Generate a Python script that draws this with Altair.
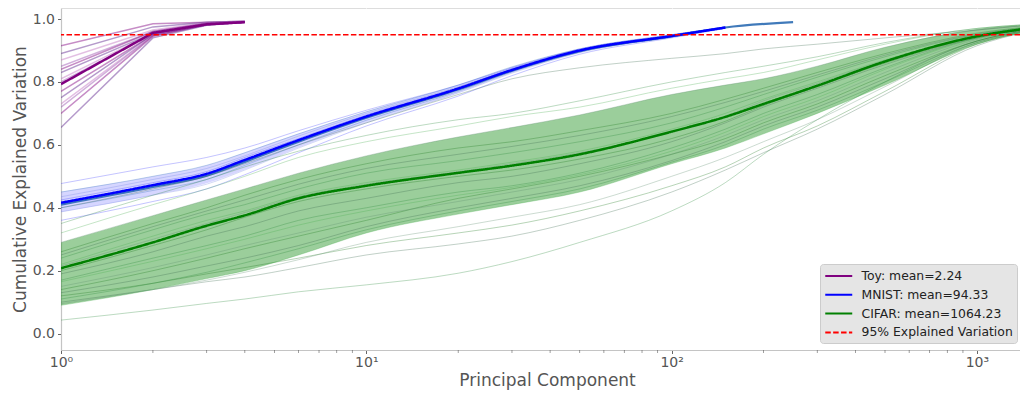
import altair as alt
import pandas as pd

# ---------------- data ----------------
TOY_X = [1, 2, 3, 4]
TOY_MEAN = [0.793, 0.956, 0.983, 0.990]
TOY_RUNS = [
    [0.915, 0.985, 0.990, 0.993],
    [0.890, 0.975, 0.990, 0.993],
    [0.870, 0.965, 0.988, 0.992],
    [0.850, 0.960, 0.987, 0.992],
    [0.840, 0.960, 0.986, 0.991],
    [0.830, 0.955, 0.985, 0.991],
    [0.810, 0.955, 0.985, 0.991],
    [0.800, 0.952, 0.985, 0.990],
    [0.770, 0.950, 0.983, 0.990],
    [0.750, 0.950, 0.983, 0.990],
    [0.730, 0.948, 0.982, 0.990],
    [0.720, 0.947, 0.982, 0.990],
    [0.700, 0.945, 0.982, 0.990],
    [0.655, 0.940, 0.980, 0.990],
]

MNIST_X = [1, 2, 3, 4, 6, 10, 20, 30, 50, 100, 150, 250]
MNIST_MEAN = [0.416, 0.472, 0.508, 0.552, 0.615, 0.690, 0.779, 0.838, 0.900, 0.946, 0.973]
MNIST_BAND_LO = [0.387, 0.440, 0.478, 0.522, 0.592, 0.672, 0.766, 0.829, 0.893, 0.943, 0.971]
MNIST_BAND_HI = [0.451, 0.500, 0.535, 0.576, 0.636, 0.706, 0.790, 0.848, 0.905, 0.950, 0.975]
MNIST_RUNS = [
    [0.477, 0.530, 0.560, 0.590, 0.645, 0.710, 0.790, 0.845, 0.905, 0.950, 0.975],
    [0.450, 0.500, 0.535, 0.575, 0.635, 0.705, 0.790, 0.848, 0.905, 0.950, 0.975],
    [0.435, 0.490, 0.525, 0.565, 0.628, 0.700, 0.785, 0.843, 0.903, 0.948, 0.974],
    [0.425, 0.480, 0.515, 0.560, 0.620, 0.695, 0.782, 0.840, 0.900, 0.947, 0.974],
    [0.400, 0.455, 0.490, 0.535, 0.600, 0.678, 0.770, 0.832, 0.895, 0.944, 0.972],
    [0.387, 0.440, 0.475, 0.520, 0.590, 0.670, 0.765, 0.828, 0.893, 0.943, 0.971],
    [0.360, 0.420, 0.460, 0.505, 0.575, 0.660, 0.755, 0.820, 0.888, 0.940, 0.970],
]
MNIST_LONG_RUN = [0.410, 0.466, 0.502, 0.546, 0.610, 0.686, 0.776, 0.836, 0.898, 0.945, 0.973, 0.990]

CIFAR_X = [1, 2, 3, 4, 6, 10, 20, 30, 50, 100, 150, 200, 300, 500, 1000, 1470]
CIFAR_MEAN = [0.208, 0.290, 0.343, 0.376, 0.430, 0.470, 0.511, 0.534, 0.570, 0.642,
              0.689, 0.730, 0.788, 0.865, 0.945, 0.970]
CIFAR_BAND_LO = [0.090, 0.140, 0.175, 0.200, 0.250, 0.320, 0.380, 0.410, 0.450, 0.540,
                 0.590, 0.635, 0.700, 0.790, 0.920, 0.960]
CIFAR_BAND_HI = [0.290, 0.375, 0.425, 0.460, 0.510, 0.565, 0.625, 0.655, 0.695, 0.760,
                 0.790, 0.810, 0.850, 0.910, 0.968, 0.982]
CIFAR_RUNS = [
    [0.043, 0.075, 0.096, 0.110, 0.133, 0.155, 0.192, 0.229, 0.290, 0.390, 0.480, 0.570, 0.680, 0.800, 0.930, 0.965],
    [0.100, 0.140, 0.165, 0.180, 0.210, 0.250, 0.285, 0.310, 0.360, 0.450, 0.520, 0.575, 0.650, 0.760, 0.915, 0.960],
    [0.120, 0.160, 0.190, 0.210, 0.240, 0.280, 0.320, 0.345, 0.390, 0.470, 0.530, 0.590, 0.660, 0.770, 0.920, 0.962],
    [0.095, 0.140, 0.170, 0.195, 0.235, 0.290, 0.340, 0.370, 0.410, 0.500, 0.560, 0.610, 0.680, 0.785, 0.925, 0.963],
    [0.090, 0.140, 0.175, 0.200, 0.250, 0.320, 0.380, 0.410, 0.450, 0.540, 0.590, 0.635, 0.700, 0.790, 0.920, 0.960],
    [0.110, 0.160, 0.195, 0.225, 0.270, 0.330, 0.390, 0.420, 0.460, 0.545, 0.600, 0.650, 0.710, 0.800, 0.925, 0.962],
    [0.130, 0.180, 0.215, 0.240, 0.280, 0.340, 0.400, 0.430, 0.470, 0.550, 0.610, 0.660, 0.720, 0.810, 0.930, 0.965],
    [0.140, 0.200, 0.240, 0.270, 0.310, 0.360, 0.430, 0.460, 0.500, 0.570, 0.620, 0.670, 0.730, 0.820, 0.930, 0.966],
    [0.150, 0.210, 0.250, 0.280, 0.320, 0.370, 0.420, 0.450, 0.490, 0.570, 0.630, 0.680, 0.740, 0.830, 0.935, 0.967],
    [0.165, 0.230, 0.270, 0.300, 0.345, 0.390, 0.440, 0.465, 0.505, 0.580, 0.640, 0.690, 0.750, 0.840, 0.938, 0.968],
    [0.170, 0.240, 0.280, 0.310, 0.360, 0.400, 0.450, 0.470, 0.510, 0.590, 0.650, 0.700, 0.760, 0.845, 0.940, 0.968],
    [0.190, 0.260, 0.310, 0.340, 0.390, 0.430, 0.480, 0.500, 0.540, 0.610, 0.670, 0.720, 0.780, 0.855, 0.940, 0.968],
    [0.200, 0.280, 0.330, 0.370, 0.420, 0.460, 0.500, 0.520, 0.555, 0.620, 0.675, 0.725, 0.785, 0.860, 0.942, 0.969],
    [0.215, 0.300, 0.350, 0.385, 0.435, 0.475, 0.515, 0.540, 0.575, 0.640, 0.690, 0.740, 0.795, 0.868, 0.944, 0.970],
    [0.220, 0.310, 0.360, 0.390, 0.440, 0.480, 0.520, 0.545, 0.580, 0.650, 0.700, 0.745, 0.800, 0.870, 0.945, 0.970],
    [0.240, 0.330, 0.380, 0.410, 0.460, 0.510, 0.550, 0.575, 0.610, 0.670, 0.720, 0.760, 0.815, 0.880, 0.950, 0.972],
    [0.250, 0.340, 0.390, 0.425, 0.475, 0.525, 0.570, 0.595, 0.630, 0.690, 0.735, 0.770, 0.822, 0.885, 0.952, 0.973],
    [0.260, 0.350, 0.400, 0.440, 0.490, 0.540, 0.590, 0.610, 0.645, 0.700, 0.745, 0.780, 0.830, 0.890, 0.955, 0.975],
    [0.290, 0.375, 0.425, 0.460, 0.510, 0.565, 0.625, 0.655, 0.695, 0.760, 0.790, 0.810, 0.850, 0.910, 0.965, 0.980],
    [0.320, 0.410, 0.460, 0.500, 0.560, 0.610, 0.660, 0.690, 0.720, 0.780, 0.810, 0.830, 0.870, 0.920, 0.970, 0.982],
    [0.350, 0.440, 0.490, 0.530, 0.580, 0.630, 0.680, 0.700, 0.740, 0.800, 0.830, 0.850, 0.880, 0.925, 0.970, 0.983],
    [0.400, 0.460, 0.500, 0.540, 0.600, 0.670, 0.760, 0.810, 0.845, 0.875, 0.890, 0.905, 0.920, 0.940, 0.965, 0.980],
]

THRESHOLD = 0.95
SERIES = ["Toy: mean=2.24", "MNIST: mean=94.33", "CIFAR: mean=1064.23", "95% Explained Variation"]
Y_TICKS = [0.0, 0.2, 0.4, 0.6, 0.8, 1.0]
X_TICKS = [1, 10, 100, 1000]
X_MINOR = [2, 3, 4, 5, 6, 7, 8, 9, 20, 30, 40, 50, 60, 70, 80, 90,
           200, 300, 400, 500, 600, 700, 800, 900]

# ---------------- styles ----------------
TOY_PALETTE = ["#800080", "#5a1e8c", "#c070c0", "#9a4fb0"]
MNIST_PALETTE = ["#3b3bff", "#2f6fb5", "#7080e0"]
CIFAR_PALETTE = ["#2e8b3e", "#3d6e50", "#1f7a1f", "#5f8f6f", "#4caf50"]
SERIES_COLORS = ["#800080", "#0000ff", "#008000", "#ff0000"]
SERIES_DASH = [[1, 0], [1, 0], [1, 0], [5.5, 2.4]]

rows = []
def add_runs(prefix, xs, runs, palette, opacity, width):
    for i, ys in enumerate(runs):
        for x, y in zip(xs, ys):
            rows.append({"x": x, "y": y, "run": f"{prefix}{i}",
                         "col": palette[i % len(palette)], "op": opacity, "w": width})

add_runs("m", MNIST_X, MNIST_RUNS, MNIST_PALETTE, 0.3, 1.0)
add_runs("ml", MNIST_X, [MNIST_LONG_RUN], ["#2b6cb3"], 0.9, 2.2)
add_runs("c", CIFAR_X, CIFAR_RUNS, CIFAR_PALETTE, 0.32, 1.0)
add_runs("t", TOY_X, TOY_RUNS, TOY_PALETTE, 0.45, 1.5)
runs_df = pd.DataFrame(rows)

mnist_band = pd.DataFrame({"x": MNIST_X[:len(MNIST_BAND_LO)], "lo": MNIST_BAND_LO, "hi": MNIST_BAND_HI})
cifar_band = pd.DataFrame({"x": CIFAR_X, "lo": CIFAR_BAND_LO, "hi": CIFAR_BAND_HI})

def mean_frame(items):
    out = []
    for name, xs, ys in items:
        for x, y in zip(xs, ys):
            out.append({"x": x, "y": y, "series": name})
    return pd.DataFrame(out)

toy_mean_df = mean_frame([(SERIES[0], TOY_X, TOY_MEAN)])
other_mean_df = mean_frame([(SERIES[1], MNIST_X, MNIST_MEAN), (SERIES[2], CIFAR_X, CIFAR_MEAN)])
rule_df = pd.DataFrame({"y": [THRESHOLD], "series": [SERIES[3]]})
minor_df = pd.DataFrame({"x": X_MINOR})

# ---------------- scales / axes ----------------
FONT = "DejaVu Sans"
W, H = 959, 342
xscale = alt.Scale(type="log", domain=[1, 1384], nice=False)
yscale = alt.Scale(domain=[-0.052, 1.035], nice=False, zero=False)

xaxis = alt.Axis(
    values=X_TICKS,
    labelExpr="'10' + (datum.value < 5 ? '⁰' : datum.value < 50 ? '¹' : datum.value < 500 ? '²' : '³')",
    grid=True, gridColor="#ffffff", gridWidth=1.1,
    tickSize=3.5, tickColor="#555555", tickWidth=0.9,
    labelFontSize=14, labelColor="#555555", labelFont=FONT, labelFlush=False, labelPadding=2,
    labelOverlap=False,
    domainColor="#c4c4c4", domainWidth=1.2,
    title="Principal Component", titleFontSize=17, titleColor="#555555", titleFont=FONT,
    titleFontWeight="normal", titleBaseline="alphabetic", titleY=35, titleX=486,
)
yaxis = alt.Axis(
    values=Y_TICKS, format=".1f",
    grid=True, gridColor="#ffffff", gridWidth=1.1,
    tickSize=3.5, tickColor="#555555", tickWidth=0.9,
    labelFontSize=14, labelColor="#555555", labelFont=FONT, labelPadding=3,
    domainColor="#c4c4c4", domainWidth=1.2,
    title="Cumulative Explained Variation", titleFontSize=17, titleColor="#555555",
    titleFont=FONT, titleFontWeight="normal", titleBaseline="alphabetic", titleX=-36,
)

def X():
    return alt.X("x:Q", scale=xscale, axis=xaxis)

def Y(f="y"):
    return alt.Y(f"{f}:Q", scale=yscale, axis=yaxis)

legend = alt.Legend(
    orient="none", legendX=759, legendY=256, title=None,
    symbolType="M-1,0H3", symbolSize=182, symbolStrokeWidth=2,
    labelFontSize=12.4, labelColor="#222222", labelFont=FONT, labelOffset=21.5,
    fillColor="#e5e5e5", strokeColor="#cccccc", cornerRadius=3, padding=4, rowPadding=3.8,
)
color_scale = alt.Scale(domain=SERIES, range=SERIES_COLORS)
dash_scale = alt.Scale(domain=SERIES, range=SERIES_DASH)

def series_enc():
    return dict(
        color=alt.Color("series:N", scale=color_scale, legend=legend),
        strokeDash=alt.StrokeDash("series:N", scale=dash_scale, legend=legend),
    )

mnist_area = alt.Chart(mnist_band).mark_area(
    color="#6a6aff", opacity=0.28, clip=True, interpolate="monotone").encode(
    x=X(), y=Y("lo"), y2="hi:Q")
cifar_area = alt.Chart(cifar_band).mark_area(
    color="#108a10", opacity=0.42, clip=True, interpolate="monotone").encode(
    x=X(), y=Y("lo"), y2="hi:Q")

def runs_layer(prefix, interp):
    return alt.Chart(runs_df).transform_filter(
        f"indexof(datum.run, '{prefix}') == 0"
    ).mark_line(interpolate=interp, clip=True).encode(
        x=X(), y=Y(), detail="run:N",
        stroke=alt.Stroke("col:N", scale=None),
        opacity=alt.Opacity("op:Q", scale=None),
        strokeWidth=alt.StrokeWidth("w:Q", scale=None),
        order=alt.Order("x:Q"),
    )

mnist_runs = runs_layer("m", "monotone")
cifar_runs = runs_layer("c", "monotone")
toy_runs = runs_layer("t", "linear")

toy_mean = alt.Chart(toy_mean_df).mark_line(strokeWidth=2.5, clip=True).encode(
    x=X(), y=Y(), order=alt.Order("x:Q"), **series_enc())
other_means = alt.Chart(other_mean_df).mark_line(
    strokeWidth=2.5, interpolate="monotone", clip=True).encode(
    x=X(), y=Y(), order=alt.Order("x:Q"), **series_enc())
rule = alt.Chart(rule_df).mark_rule(strokeWidth=1.5).encode(y=Y(), **series_enc())
minor = alt.Chart(minor_df).mark_tick(color="#555555", thickness=0.8, size=3).encode(
    x=X(), y=alt.value(H + 1.5))

chart = alt.layer(
    mnist_area, mnist_runs, cifar_area, cifar_runs, toy_runs, toy_mean, other_means, rule, minor
).properties(
    width=W, height=H,
    autosize=alt.AutoSizeParams(type="none"),
    padding={"left": 53, "top": 0, "right": 0, "bottom": 44},
).configure_view(fill="#e5e5e5", stroke=None).configure(font=FONT)

chart.save("out.html", embed_options={"renderer": "svg", "actions": False})
